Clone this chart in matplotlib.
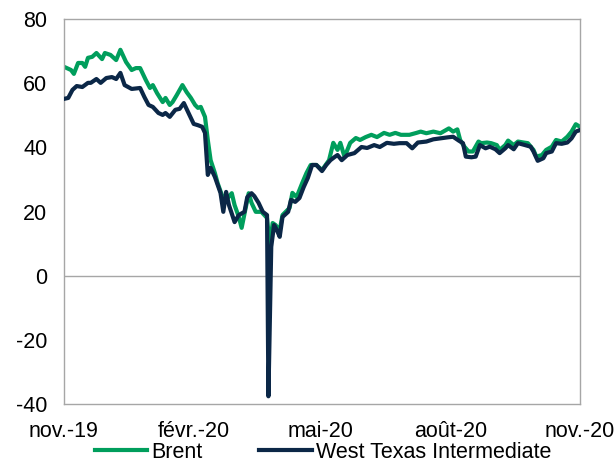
import numpy as np
import pandas as pd
import matplotlib
matplotlib.use("Agg")
import matplotlib.pyplot as plt

plt.rcParams['font.family'] = ['Liberation Sans', 'DejaVu Sans']
plt.rcParams['axes.unicode_minus'] = False

# Prix du pétrole ($/baril), jours comptés depuis le 1er novembre 2019
start = pd.Timestamp('2019-11-01')

brent_days = [0, 5, 7, 10, 13, 15, 17, 20, 23, 27, 29, 33, 37, 40, 44, 48, 51, 54, 58, 61,
              63, 66, 70, 72, 75, 77, 80, 84, 87, 90, 93, 95, 97, 100, 102, 104, 107, 109,
              112, 115, 119, 121, 124, 126, 129, 131, 133, 136, 140, 144, 146, 148, 150,
              153, 155, 160, 162, 165, 169, 172, 175, 179, 183, 188, 191, 194, 196, 199,
              203, 207, 210, 214, 218, 222, 227, 231, 235, 239, 245, 250, 253, 257, 262,
              267, 273, 276, 279, 281, 284, 287, 290, 294, 296, 300, 303, 307, 309, 313,
              315, 319, 322, 326, 329, 333, 335, 339, 342, 346, 349, 353, 357, 360, 363, 366]
brent = [65.1, 64.1, 62.9, 66.3, 66.3, 65.1, 67.9, 68.2, 69.4, 67.5, 69.4, 68.8, 67.2, 70.4,
         66.6, 64.1, 64.7, 64.7, 61.0, 58.5, 59.4, 56.9, 54.1, 55.4, 53.2, 54.1, 56.3, 59.4,
         57.2, 55.4, 53.2, 52.3, 52.6, 49.5, 42.3, 36.0, 32.0, 28.8, 25.1, 23.6, 25.7, 22.0,
         18.3, 14.9, 21.4, 25.7, 22.7, 19.9, 19.9, 18.0, 9.0, 16.4, 15.8, 14.2, 18.9, 21.1,
         25.8, 24.5, 28.9, 32.0, 34.5, 34.5, 32.9, 36.0, 41.4, 39.2, 41.4, 37.0, 41.4, 42.9,
         42.3, 43.2, 43.9, 43.2, 44.5, 43.9, 44.5, 43.9, 43.9, 44.5, 44.9, 44.4, 44.9, 44.4,
         45.9, 44.9, 45.6, 42.3, 40.2, 38.7, 38.7, 41.8, 41.3, 41.5, 41.3, 40.7, 39.2, 40.7,
         42.1, 40.7, 41.8, 41.5, 41.3, 39.2, 37.1, 37.6, 39.2, 40.2, 42.3, 41.8, 43.3, 44.9,
         47.2, 46.4]

wti_days = [0, 3, 6, 9, 13, 17, 19, 23, 26, 30, 34, 37, 40, 43, 48, 54, 57, 60, 63, 67,
            70, 72, 75, 79, 82, 85, 88, 92, 95, 98, 100, 102, 104, 107, 109, 111, 113, 115,
            117, 121, 124, 128, 130, 133, 135, 138, 141, 144, 145, 147, 149, 151, 153, 155,
            159, 161, 164, 167, 170, 173, 176, 179, 183, 186, 189, 192, 194, 197, 201, 206,
            211, 215, 220, 224, 229, 234, 238, 243, 247, 251, 257, 262, 267, 272, 276, 280,
            283, 285, 289, 292, 295, 299, 302, 306, 309, 313, 315, 319, 322, 327, 331, 333,
            336, 340, 342, 346, 349, 353, 357, 360, 363, 366]
wti = [55.1, 55.4, 57.9, 59.1, 58.8, 60.1, 60.1, 61.3, 60.1, 61.6, 61.9, 61.3, 63.2, 59.4,
       58.2, 58.5, 55.7, 53.2, 52.6, 50.7, 50.1, 50.7, 49.5, 51.7, 52.0, 53.8, 51.0, 47.3,
       46.9, 46.4, 44.5, 31.4, 33.6, 30.8, 28.3, 25.8, 19.9, 26.1, 22.0, 16.7, 18.9, 19.9,
       24.5, 25.7, 24.8, 22.7, 19.9, 18.9, -37.6, 9.0, 15.8, 14.2, 12.1, 18.3, 19.9, 23.6,
       23.0, 24.2, 27.6, 30.5, 34.5, 34.5, 32.6, 34.5, 36.0, 37.0, 37.6, 36.0, 37.6, 38.2,
       40.1, 39.8, 40.7, 40.1, 41.4, 41.1, 41.3, 41.3, 39.7, 41.5, 41.8, 42.5, 42.8, 43.1,
       43.3, 42.1, 41.3, 37.1, 36.9, 37.1, 40.7, 39.7, 40.2, 39.4, 38.2, 39.7, 40.7, 39.4,
       41.3, 40.7, 40.2, 38.7, 35.8, 36.6, 38.2, 38.7, 41.3, 41.1, 41.5, 42.8, 44.9, 45.4]

tick_dates = ['2019-11-01', '2020-02-01', '2020-05-01', '2020-08-01', '2020-11-01']
tick_labels = ['nov.-19', 'févr.-20', 'mai-20', 'août-20', 'nov.-20']

brent_dates = start + pd.to_timedelta(brent_days, unit='D')
wti_dates = start + pd.to_timedelta(wti_days, unit='D')

green = '#009e5c'
navy = '#0b2747'
grey = '#a6a6a6'

fig = plt.figure(figsize=(6.16, 4.61), dpi=100)
ax = fig.add_axes([64/616, 1 - 404/461, 516/616, 385/461])

ax.axhline(0, color=grey, lw=1.0, zorder=1)
ax.plot(brent_dates, brent, color=green, lw=3.0, label='Brent', zorder=2)
ax.plot(wti_dates, wti, color=navy, lw=3.0, label='West Texas Intermediate', zorder=3)

ax.set_ylim(-40, 80)
ax.set_yticks(np.arange(-40, 81, 20))
ax.set_xlim(pd.Timestamp(tick_dates[0]), pd.Timestamp(tick_dates[-1]))
ax.set_xticks(pd.to_datetime(tick_dates))
ax.set_xticklabels(tick_labels)

for s in ax.spines.values():
    s.set_color(grey)
    s.set_linewidth(1.0)
ax.tick_params(axis='both', length=0, labelsize=15.5, colors='black')
ax.tick_params(axis='y', pad=12)
ax.tick_params(axis='x', pad=12)

fig.legend(loc='center', bbox_to_anchor=(323/616, 1 - 452/461), ncol=2, frameon=False,
           fontsize=15.5, handlelength=2.45, handletextpad=0.2, columnspacing=2.6,
           borderpad=0, borderaxespad=0)

fig.savefig('out.png', dpi=100)
